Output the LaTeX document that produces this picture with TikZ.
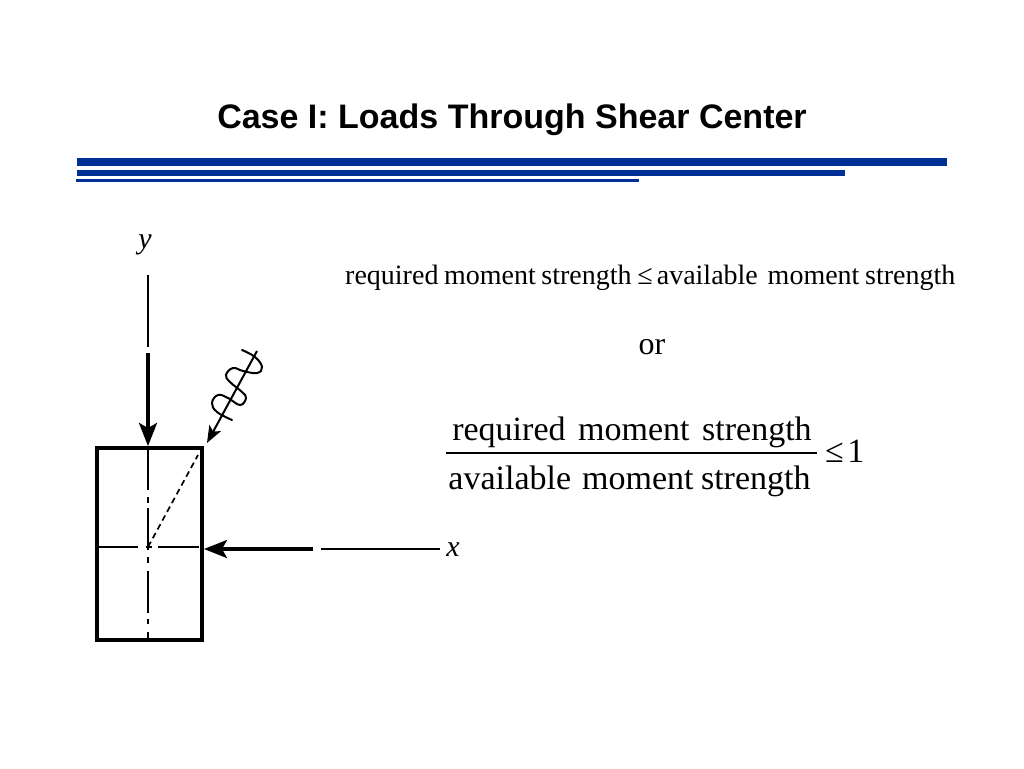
\documentclass[tikz,border=0pt]{standalone}
\usepackage{fontspec}
\setmainfont{Liberation Serif}
\newfontfamily\titlefont{Liberation Sans}
\usetikzlibrary{arrows.meta}
\definecolor{barblue}{RGB}{0,48,150}
\newcommand{\wgap}[1]{\hspace{#1em}}
\tikzset{
	bar/.style={fill=barblue,draw=none},
	heavy/.style={line width=3.4pt},
	light/.style={line width=1.6pt},
	centre/.style={line width=1.7pt},
	loadtip/.style={-{Stealth[length=23pt,width=18pt,inset=5pt]}},
	eqn/.style={inner sep=0pt,anchor=base west,font=\fontsize{28}{28}\selectfont},
	frac/.style={inner sep=0pt,anchor=base,font=\fontsize{34}{34}\selectfont},
	axislabel/.style={inner sep=0pt,anchor=base,font=\fontsize{30}{30}\selectfont\itshape}
}
\begin{document}
\begin{tikzpicture}[x=1pt,y=-1pt,>=stealth]
	\useasboundingbox[fill=white] (0,0) rectangle (1024,768);

	% The title and its bars
	\node[inner sep=0pt,font=\fontsize{34}{34}\selectfont\titlefont\bfseries] (title) at (512,120) {Case I: Loads Through Shear Center};
	\fill[bar] (77,158) rectangle (947,166);
	\fill[bar] (77,170) rectangle (845,176);
	\fill[bar] (76,179) rectangle (639,182);

	% The section
	\draw[line width=3.5pt] (97,448) rectangle (202,640);
	\coordinate (top) at (148,448);
	\coordinate (bottom) at (148,640);
	\coordinate (left) at (97,547);
	\coordinate (right) at (199,547);
	\coordinate (centre) at (148,547);
	\coordinate (corner) at (198,455);
	\draw[centre,dash pattern=on 42pt off 7pt on 6pt off 5pt on 42pt off 7pt on 6pt off 8pt on 42pt off 6pt on 5pt off 8pt on 8pt off 20pt] (top) -- (bottom);
	\draw[centre,dash pattern=on 41pt off 8pt on 6pt off 6pt on 41pt off 20pt] (left) -- (right);
	\draw[centre,dash pattern=on 6pt off 4pt] (centre) -- (corner);

	% The loads
	\coordinate (ytop) at (148,275);
	\coordinate (ybreak) at (148,347);
	\coordinate (ystart) at (148,353);
	\coordinate (ytip) at (148,446);
	\draw[light] (ytop) -- (ybreak);
	\draw[heavy,loadtip] (ystart) -- (ytip);
	\coordinate (xend) at (440,549);
	\coordinate (xbreak) at (321,549);
	\coordinate (xstart) at (313,549);
	\coordinate (xtip) at (204,549);
	\draw[light] (xend) -- (xbreak);
	\draw[heavy,loadtip] (xstart) -- (xtip);
	\coordinate (skewtop) at (257,351);
	\coordinate (skewtip) at (207,443);
	\draw[line width=2pt,-{Stealth[length=17pt,width=13pt,inset=4pt]}] (skewtop) -- (skewtip);
	\draw[line width=2pt,line cap=round] plot[smooth,tension=0.7] coordinates {(242,350) (255,357) (262,367) (257,373) (243,371) (233,368) (226,375) (230,382) (242,392) (246,398) (240,405) (228,398) (218,395) (212,403) (217,412) (232,420)};

	\node[axislabel] (ylabel) at (145,248) {y};
	\node[axislabel] (xlabel) at (453,556) {x};

	% The equations
	\node[eqn] (limit) at (345,284) {required\wgap{.2}moment\wgap{.2}strength\wgap{.2}≤\wgap{.15}available\wgap{.35}moment\wgap{.2}strength};
	\node[frac,font=\fontsize{32}{32}\selectfont] (or) at (652,354) {or};
	\node[frac] (upper) at (632,440) {required\wgap{.37}moment\wgap{.37}strength};
	\node[frac] (lower) at (629.5,489) {available\wgap{.32}moment\wgap{.22}strength};
	\node[frac,anchor=base west] (one) at (825,462) {≤\wgap{.1}1};
	\coordinate (barleft) at (446,453);
	\coordinate (barright) at (817,453);
	\draw[line width=1.3pt] (barleft) -- (barright);
\end{tikzpicture}
\end{document}
